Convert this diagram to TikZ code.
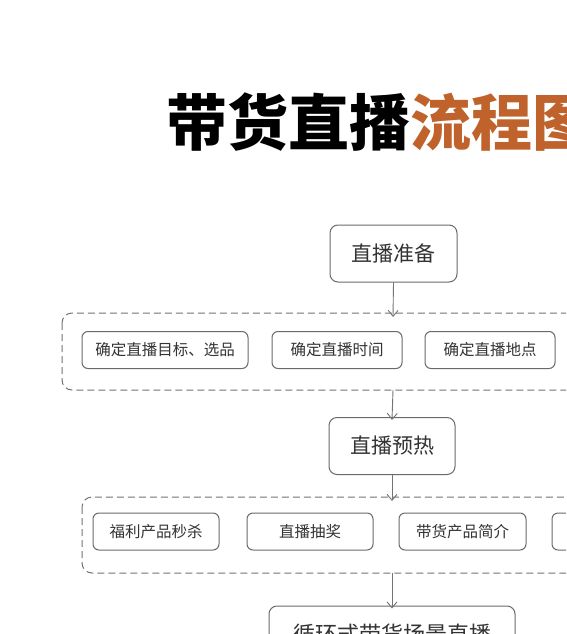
\documentclass[tikz,border=0pt]{standalone}
\usepackage{fontspec}
\newfontfamily\cjk{Noto Sans CJK SC}
\usetikzlibrary{arrows.meta}
\definecolor{lineg}{HTML}{6A6A6A}
\definecolor{dashg}{HTML}{747474}
\definecolor{titleor}{HTML}{C0622B}
\tikzset{
  bigbox/.style={draw=lineg, line width=1pt, rounded corners=8pt, fill=white,
    minimum height=57pt, text=black!80, font=\cjk\fontsize{21}{25}\selectfont, inner sep=0pt},
  smallbox/.style={draw=lineg, line width=1pt, rounded corners=6pt, fill=white,
    minimum height=37pt, text=black!80, font=\cjk\fontsize{15.5}{18}\selectfont, inner sep=0pt},
  groupbox/.style={draw=dashg, line width=1pt, dash pattern=on 7pt off 4pt, rounded corners=10pt},
  flow/.style={draw=dashg, line width=0.9pt, -{Straight Barb[length=6pt,width=10pt]}},
}
\begin{document}
\begin{tikzpicture}[x=1pt,y=-1pt]
\useasboundingbox (0,0) rectangle (566,634);
\fill[white] (0,0) rectangle (566,634);
\clip (0,0) rectangle (566,634);
% title
\node[anchor=west, inner sep=0pt, font=\cjk\bfseries\fontsize{61}{70}\selectfont] (title) at (166,122)
  {带货直播\textcolor{titleor}{流程图}};
% stage 1
\node[bigbox, minimum width=127pt] (prep) at (393.5,253.5) {直播准备};
\draw[groupbox] (62,313) rectangle (640,390);
\coordinate (g1top) at (393,313);
\coordinate (g1bot) at (393,390);
\node[smallbox, minimum width=166pt] (a1) at (165,350) {确定直播目标、选品};
\node[smallbox, minimum width=130pt] (a2) at (337,350) {确定直播时间};
\node[smallbox, minimum width=130pt] (a3) at (490,350) {确定直播地点};
% stage 2
\node[bigbox, minimum width=126pt] (warm) at (392,446) {直播预热};
\draw[groupbox] (82,497) rectangle (660,573);
\coordinate (g2top) at (392,497);
\coordinate (g2bot) at (392,573);
\node[smallbox, minimum width=126pt] (b1) at (156,531.5) {福利产品秒杀};
\node[smallbox, minimum width=126pt] (b2) at (310,531.5) {直播抽奖};
\node[smallbox, minimum width=127pt] (b3) at (462.5,531.5) {带货产品简介};
\node[smallbox, minimum width=126pt] (b4) at (615,531.5) {};
% stage 3
\node[bigbox, minimum width=246pt, minimum height=57pt, font=\cjk\fontsize{22}{26}\selectfont] (loop) at (392,634.5) {循环式带货场景直播};
% connectors
\draw[flow] (prep.south) -- ([yshift=-4pt]g1top);
\draw[flow] (g1bot) -- ([yshift=-3pt]warm.north);
\draw[flow] (warm.south) -- ([yshift=-4pt]g2top);
\draw[flow] (g2bot) -- ([yshift=-3pt]loop.north);
\end{tikzpicture}
\end{document}
